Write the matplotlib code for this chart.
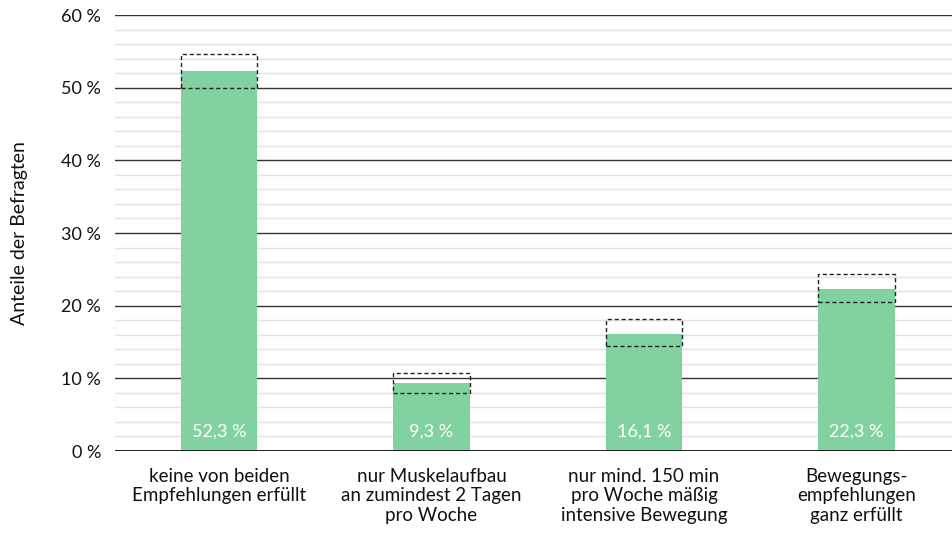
import matplotlib
matplotlib.use("Agg")
import matplotlib.pyplot as plt
from matplotlib.patches import Rectangle
from matplotlib.ticker import MultipleLocator, FuncFormatter

plt.rcParams['font.family'] = ['Lato', 'DejaVu Sans']

categories = ["keine von beiden\nEmpfehlungen erfüllt",
              "nur Muskelaufbau\nan zumindest 2 Tagen\npro Woche",
              "nur mind. 150 min\npro Woche mäßig\nintensive Bewegung",
              "Bewegungs-\nempfehlungen\nganz erfüllt"]
values = [52.3, 9.3, 16.1, 22.3]
ci_low = [50.0, 8.0, 14.4, 20.5]
ci_high = [54.6, 10.8, 18.2, 24.4]
value_labels = ["52,3 %", "9,3 %", "16,1 %", "22,3 %"]
y_label = "Anteile der Befragten"

fig = plt.figure(figsize=(9.52, 5.41), dpi=100)
ax = fig.add_axes([115/952, 1 - 451/541, (952-115)/952, (451-15)/541])

bar_color = "#82d1a0"
width = 0.36
x = list(range(len(values)))
ax.bar(x, values, width=width, color=bar_color, zorder=3)

for xi, lo, hi in zip(x, ci_low, ci_high):
    r = Rectangle((xi - width/2, lo), width, hi - lo, fill=False,
                  edgecolor="#222222", linestyle=(0, (3, 2)), linewidth=1.0, zorder=4)
    ax.add_patch(r)

for xi, lab in zip(x, value_labels):
    ax.text(xi, 1.6, lab, ha="center", va="bottom", color="white", fontsize=13, zorder=5)

ax.set_ylim(0, 60)
ax.set_xlim(-0.49, 3.45)
ax.yaxis.set_major_locator(MultipleLocator(10))
ax.yaxis.set_minor_locator(MultipleLocator(2))
ax.yaxis.set_major_formatter(FuncFormatter(lambda v, p: f"{int(v)} %"))
ax.grid(axis="y", which="minor", color="#e4e2de", linewidth=1.0, zorder=0)
ax.grid(axis="y", which="major", color="#333333", linewidth=1.0, zorder=1)
ax.axhline(0, color="#111111", linewidth=1.3, zorder=6)

for s in ax.spines.values():
    s.set_visible(False)
ax.tick_params(axis="y", which="both", length=0, labelsize=13, pad=10, colors="#111111")
ax.tick_params(axis="x", length=0, labelsize=13.5, pad=12, colors="#111111")
ax.set_xticks(x)
ax.set_xticklabels(categories, linespacing=1.2)
ax.set_ylabel(y_label, fontsize=14, labelpad=24, color="#111111")

fig.savefig("out.png", dpi=100)
